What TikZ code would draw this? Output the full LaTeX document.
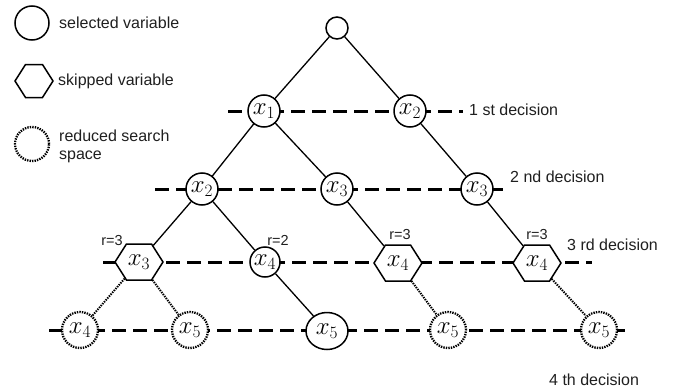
\documentclass[tikz,border=0pt]{standalone}
\usepackage{fontspec}
\newfontfamily\labelfont{Liberation Sans}
\usetikzlibrary{shapes.geometric,shapes.symbols}
\colorlet{ink}{black!88}
\tikzset{
  varfont/.style={font=\fontsize{26}{26}\selectfont},
  var/.style={circle, draw=black, line width=1.5pt, fill=white, inner sep=0pt,
              minimum size=32pt, varfont},
  root/.style={circle, draw=black, line width=1.5pt, fill=white, inner sep=0pt,
               minimum size=22pt},
  skip/.style={signal, signal to=east and west, signal pointer angle=115,
               draw=black, line width=1.5pt, fill=white, inner sep=0pt,
               minimum width=48pt, minimum height=36pt, varfont},
  reduced/.style={circle, draw=black, line width=2.3pt, dash pattern=on 1.4pt off 1.1pt,
                  fill=white, inner sep=0pt, minimum size=36pt, varfont},
  wide/.style={ellipse, draw=black, line width=1.5pt, fill=white, inner sep=0pt,
               minimum width=42pt, minimum height=37pt, varfont},
  level/.style={line width=3pt, dash pattern=on 14pt off 7pt, black},
  edge/.style={line width=1.3pt, black},
  cut/.style={line width=2pt, dash pattern=on 1.4pt off 1.1pt, black},
  txt/.style={font=\labelfont\fontsize{16}{18}\selectfont, text=ink, inner sep=0pt,
              anchor=west, align=left},
  rlab/.style={font=\labelfont\fontsize{14.5}{16}\selectfont, text=ink, inner sep=0pt},
}
\begin{document}
\begin{tikzpicture}[x=1pt,y=-1pt]
\useasboundingbox (0,0) rectangle (683,388);

% legend
\node[root, minimum size=34pt] (legsel) at (32,23) {};
\node[txt] (legseltxt) at (59,23) {selected variable};
\node[skip, minimum width=38pt, minimum height=33pt] (legskip) at (34,81) {};
\node[txt] (legskiptxt) at (58,81) {skipped variable};
\node[reduced, minimum size=34pt] (legred) at (32,144) {};
\node[txt] (legredtxt) at (59,146) {reduced search\\space};

% decision levels
\coordinate (l1w) at (228,111); \coordinate (l1e) at (463,111);
\coordinate (l2w) at (155,189); \coordinate (l2e) at (503,189);
\coordinate (l3w) at (103,262); \coordinate (l3e) at (592,262);
\coordinate (l4w) at (49,330);  \coordinate (l4e) at (625,330);
\draw[level] (l1w) -- (l1e);
\draw[level] (l2w) -- (l2e);
\draw[level] (l3w) -- (l3e);
\draw[level] (l4w) -- (l4e);

% tree nodes
\node[root] (r) at (337,28) {};
\node[var] (a1) at (264,111) {$x_1$};
\node[var] (a2) at (410,111) {$x_2$};
\node[var] (b1) at (202,189) {$x_2$};
\node[var] (b2) at (337,189) {$x_3$};
\node[var] (b3) at (477,189) {$x_3$};
\node[skip] (c1) at (139,262) {$x_3$};
\node[var, minimum size=30pt] (c2) at (265,262) {$x_4$};
\node[skip] (c3) at (398,263) {$x_4$};
\node[skip] (c4) at (537,263) {$x_4$};
\node[reduced] (d1) at (80,330) {$x_4$};
\node[reduced] (d2) at (190,330) {$x_5$};
\node[wide] (d3) at (327,331) {$x_5$};
\node[reduced] (d4) at (448,330) {$x_5$};
\node[reduced] (d5) at (599,330) {$x_5$};

% branches
\draw[edge] (r) -- (a1);
\draw[edge] (r) -- (a2);
\draw[edge] (a1) -- (b1);
\draw[edge] (a1) -- (b2);
\draw[edge] (a2) -- (b3);
\draw[edge] (b1) -- (c1);
\draw[edge] (b1) -- (c2);
\draw[edge] (b2) -- (c3);
\draw[edge] (b3) -- (c4);
\draw[edge] (c2) -- (d3);
\draw[cut] (c1) -- (d1);
\draw[cut] (c1) -- (d2);
\draw[cut] (c3) -- (d4);
\draw[cut] (c4) -- (d5);

% remaining radius labels
\node[rlab] (rc1) at (112,241) {r=3};
\node[rlab] (rc2) at (278,240) {r=2};
\node[rlab] (rc3) at (400,235) {r=3};
\node[rlab] (rc4) at (537,235) {r=3};

% decision captions
\node[txt] (dec1) at (469,110) {1 st decision};
\node[txt] (dec2) at (510,177) {2 nd decision};
\node[txt] (dec3) at (567,245) {3 rd decision};
\node[txt] (dec4) at (549,380) {4 th decision};
\end{tikzpicture}
\end{document}
